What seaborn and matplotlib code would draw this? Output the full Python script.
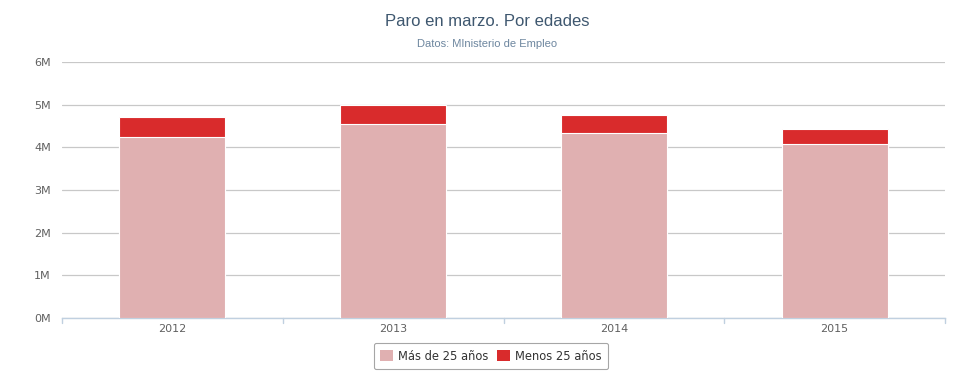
import matplotlib
matplotlib.use("Agg")
import matplotlib.pyplot as plt
import seaborn as sns
import pandas as pd
from matplotlib.patches import Patch
from matplotlib.ticker import FuncFormatter, FixedLocator

years = ["2012", "2013", "2014", "2015"]
mas_25 = [4240000, 4550000, 4340000, 4070000]
menos_25 = [470000, 450000, 420000, 360000]
series_names = ["Más de 25 años", "Menos 25 años"]
y_ticks = [0, 1e6, 2e6, 3e6, 4e6, 5e6, 6e6]

c_mas = "#e0b0b1"
c_menos = "#d92b2c"

sns.set_theme(style="white")
plt.rcParams['font.family'] = ['DejaVu Sans']

df = pd.DataFrame({"year": years, "mas": mas_25, "menos": menos_25})
df["total"] = df["mas"] + df["menos"]

fig = plt.figure(figsize=(9.75, 3.9), dpi=100)
ax = fig.add_axes([62/975, 72/390, (945-62)/975, (318-62)/390])

sns.barplot(data=df, x="year", y="total", color=c_menos, width=0.48,
            edgecolor="white", linewidth=0.8, saturation=1, ax=ax, zorder=3)
sns.barplot(data=df, x="year", y="mas", color=c_mas, width=0.48,
            edgecolor="white", linewidth=0.8, saturation=1, ax=ax, zorder=4)

ax.set_ylim(0, 6e6)
ax.set_xlim(-0.5, 3.5)
ax.yaxis.set_major_locator(FixedLocator(y_ticks))
ax.yaxis.set_major_formatter(FuncFormatter(lambda v, p: f"{int(round(v/1e6))}M"))
ax.grid(axis="y", color="#c8c8c8", linewidth=0.9, zorder=0)
ax.set_axisbelow(True)
for s in ["top", "right", "left"]:
    ax.spines[s].set_visible(False)
ax.spines["bottom"].set_color("#c0d0e0")
ax.spines["bottom"].set_linewidth(1)
ax.set_xlabel("")
ax.set_ylabel("")
ax.tick_params(axis="y", length=0, pad=8, labelsize=8, labelcolor="#606060")
ax.tick_params(axis="x", length=0, pad=4, labelsize=8, labelcolor="#606060")
# boundary ticks
for xb in [-0.5, 0.5, 1.5, 2.5, 3.5]:
    ax.plot([xb, xb], [0, -0.02], transform=ax.get_xaxis_transform(),
            color="#c0d0e0", linewidth=1, clip_on=False)

fig.text(0.5, 1 - 22/390, "Paro en marzo. Por edades", ha="center", va="center",
         fontsize=12, color="#3e576f", family=["Liberation Sans", "DejaVu Sans"])
fig.text(0.5, 1 - 44/390, "Datos: MInisterio de Empleo", ha="center", va="center",
         fontsize=8, color="#6d869f", family=["Liberation Sans", "DejaVu Sans"])

handles = [Patch(facecolor=c_mas, edgecolor="none"), Patch(facecolor=c_menos, edgecolor="none")]
leg = fig.legend(handles, series_names, loc="center", bbox_to_anchor=(491/975, 1 - 356/390),
                 ncol=2, frameon=True, fontsize=8.3, handlelength=1.1, handleheight=1.1,
                 handletextpad=0.5, columnspacing=0.7, borderpad=0.55, fancybox=True,
                 labelcolor="#333333")
leg.get_frame().set_edgecolor("#909090")
leg.get_frame().set_linewidth(0.8)

fig.savefig("out.png", dpi=100)
